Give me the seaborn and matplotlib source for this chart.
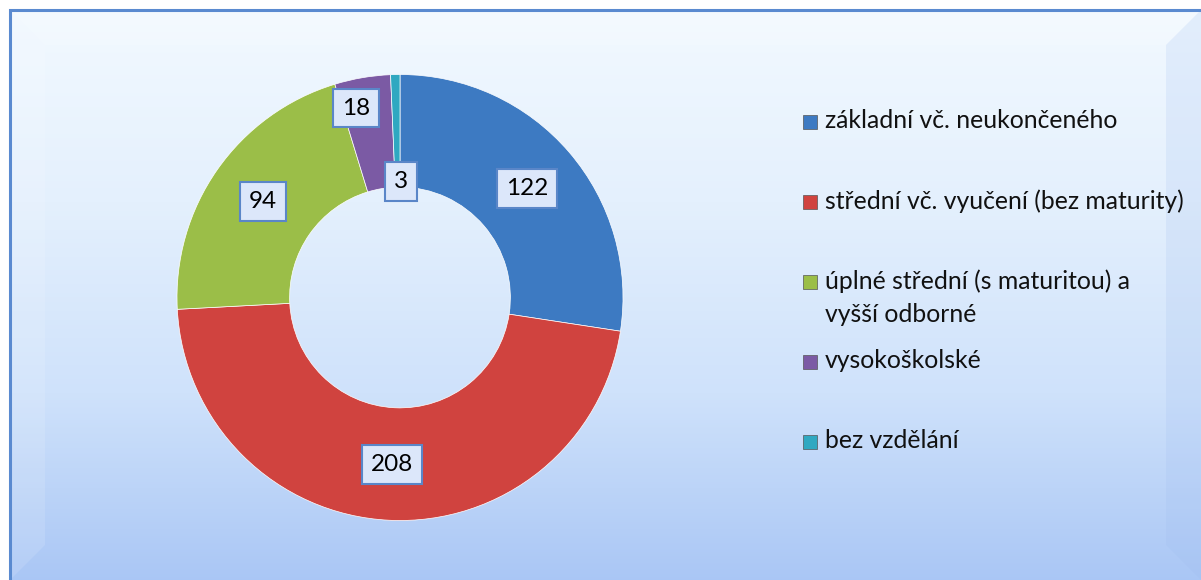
import numpy as np
import seaborn as sns
import matplotlib.pyplot as plt
from matplotlib.patches import Rectangle, Polygon
from matplotlib.colors import LinearSegmentedColormap

# data
categories = ['základní vč. neukončeného',
              'střední vč. vyučení (bez maturity)',
              'úplné střední (s maturitou) a\nvyšší odborné',
              'vysokoškolské',
              'bez vzdělání']
values = [122, 208, 94, 18, 3]
colors = ['#3D7AC2', '#D0433F', '#9BBE48', '#7B5AA4', '#2FA8C1']

sns.set_theme(style='white')
plt.rcParams['font.family'] = ['Lato', 'DejaVu Sans']

W, H = 1201, 580
fig = plt.figure(figsize=(W / 100, H / 100), dpi=100)
fig.patch.set_facecolor('white')

# background panel with vertical gradient
bg = fig.add_axes([0, 0, 1, 1])
bg.set_xlim(0, W)
bg.set_ylim(H, 0)
bg.axis('off')
cmap = LinearSegmentedColormap.from_list('bgc', ['#F2F9FF', '#E4F0FD', '#CFE2FB', '#A9C6F5'])
grad = np.linspace(0, 1, 256).reshape(-1, 1)
bg.imshow(grad, extent=[10, W + 5, H + 5, 10], cmap=cmap, aspect='auto', zorder=0)
# soft bevel at the panel edges
bg.add_patch(Polygon([[10, 10], [45, 45], [45, H - 35], [10, H]], closed=True,
                     facecolor='white', alpha=0.12, lw=0, zorder=1))
bg.add_patch(Polygon([[10, 10], [W, 10], [W - 35, 45], [45, 45]], closed=True,
                     facecolor='white', alpha=0.18, lw=0, zorder=1))
bg.add_patch(Polygon([[W, 10], [W, H], [W - 35, H - 35], [W - 35, 45]], closed=True,
                     facecolor='#9DBBEF', alpha=0.18, lw=0, zorder=1))
bg.plot([10, 10, W + 5], [H + 5, 10, 10], color='#5A8AD0', lw=2.2, zorder=2,
        solid_joinstyle='miter')

# donut
cx, cy, r = 400, 297.5, 223
ax = fig.add_axes([(cx - r) / W, (H - cy - r) / H, 2 * r / W, 2 * r / H])
ax.set_facecolor('none')
wedges, _ = ax.pie(values, colors=colors, startangle=90, counterclock=False,
                   radius=1, wedgeprops=dict(width=0.505, edgecolor='#FFFFFF',
                                             linewidth=0.5))
ax.set_xlim(-1, 1)
ax.set_ylim(-1, 1)
ax.set_aspect('equal')
ax.axis('off')

# data labels
label_shift = [(0, 0), (0, 0), (0, 0), (-0.07, 0.11), (0.02, -0.23)]
for w, v, (dx, dy) in zip(wedges, values, label_shift):
    ang = np.deg2rad((w.theta1 + w.theta2) / 2)
    rr = 0.75
    x, y = rr * np.cos(ang) + dx, rr * np.sin(ang) + dy
    ax.text(x, y, str(v), ha='center', va='center', fontsize=17.5, color='black',
            bbox=dict(boxstyle='square,pad=0.36', facecolor='#DCE7FA',
                      edgecolor='#5A86C8', linewidth=1.5), zorder=5)

# legend
lx, ly0, step = 803, 122, 80
for i, (lab, c) in enumerate(zip(categories, colors)):
    y = ly0 + i * step
    bg.add_patch(Rectangle((lx, y - 7), 14, 14, facecolor=c, edgecolor='#555555',
                           lw=0.5, zorder=3))
    bg.text(lx + 22, y - 13, lab, ha='left', va='top', fontsize=17.8,
            color='#111111', linespacing=1.55, zorder=3)

fig.savefig('out.png', dpi=100)
